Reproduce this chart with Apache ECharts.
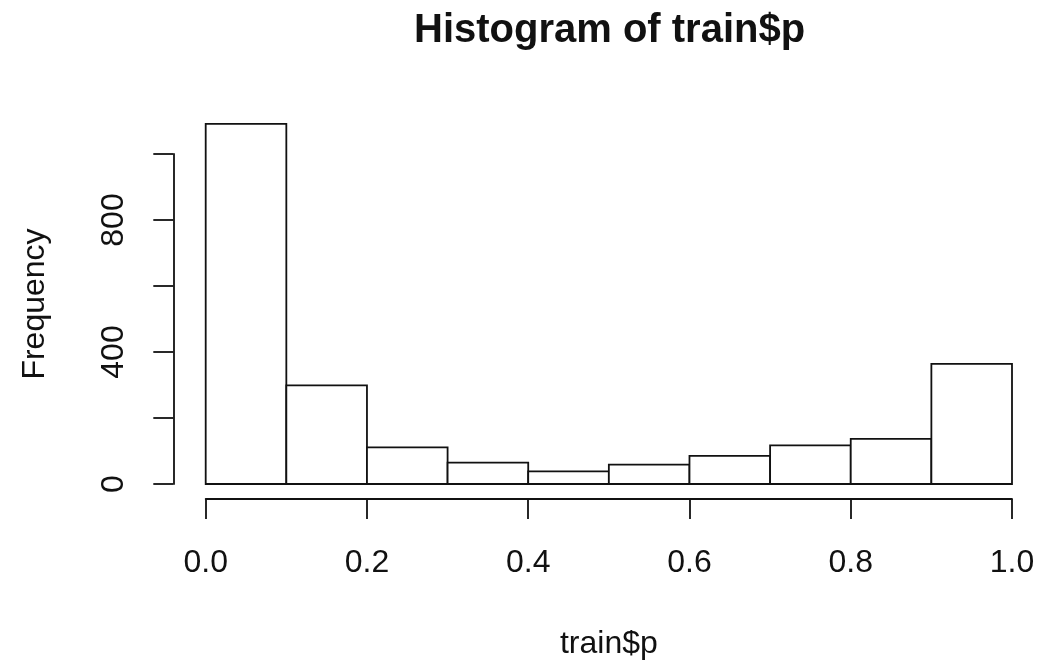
<!DOCTYPE html>
<html>
<head>
<meta charset="utf-8">
<script src="https://cdn.jsdelivr.net/npm/echarts@6/dist/echarts.min.js"></script>
<style>
html,body{margin:0;padding:0;background:#fff;}
#chart{width:1042px;height:661px;}
</style>
</head>
<body>
<div id="chart"></div>
<script>
// Data
var binStarts = [0.0, 0.1, 0.2, 0.3, 0.4, 0.5, 0.6, 0.7, 0.8, 0.9];
var binEnds   = [0.1, 0.2, 0.3, 0.4, 0.5, 0.6, 0.7, 0.8, 0.9, 1.0];
var counts    = [1091, 299, 111, 65, 38, 59, 85, 117, 137, 364];
var xTickLabels = ['0.0', '0.2', '0.4', '0.6', '0.8', '1.0'];
var yLabelValues = [0, 400, 800];

var FONT = 'Liberation Sans, Arial, sans-serif';
var INK = '#111';

var chart = echarts.init(document.getElementById('chart'), null, {renderer: 'canvas'});

var data = counts.map(function (c, i) { return [binStarts[i], binEnds[i], c]; });

chart.setOption({
  backgroundColor: '#fff',
  animation: false,
  title: {
    text: 'Histogram of train$p',
    left: 409,
    top: 6,
    textStyle: {fontFamily: FONT, fontWeight: 'bold', fontSize: 40, color: INK}
  },
  grid: {left: 205.7, width: 806.3, top: 154, height: 330, containLabel: false},
  xAxis: {
    type: 'value',
    min: 0, max: 1, interval: 0.2,
    offset: 15,
    name: 'train$p',
    nameLocation: 'middle',
    nameGap: 129,
    nameTextStyle: {fontFamily: FONT, fontSize: 32, color: INK},
    axisLine: {show: true, onZero: false, lineStyle: {color: INK, width: 1.8}},
    axisTick: {show: true, length: 20, lineStyle: {color: INK, width: 1.8}},
    axisLabel: {
      fontFamily: FONT, fontSize: 32, color: INK, margin: 48,
      formatter: function (v) { var i = Math.round(v / 0.2); return xTickLabels[i] || ''; }
    },
    splitLine: {show: false}
  },
  yAxis: {
    type: 'value',
    min: 0, max: 1000, interval: 200,
    offset: 32.4,
    name: 'Frequency',
    nameLocation: 'middle',
    nameGap: 122,
    nameRotate: 90,
    nameTextStyle: {fontFamily: FONT, fontSize: 32, color: INK, padding: [0, 0, 0, 30]},
    axisLine: {show: true, onZero: false, lineStyle: {color: INK, width: 1.8}},
    axisTick: {show: true, length: 20, lineStyle: {color: INK, width: 1.8}},
    axisLabel: {
      fontFamily: FONT, fontSize: 32, color: INK, margin: 43, rotate: 90,
      formatter: function (v) { return yLabelValues.indexOf(v) >= 0 ? String(v) : ''; }
    },
    splitLine: {show: false}
  },
  series: [{
    type: 'custom',
    clip: false,
    data: data,
    renderItem: function (params, api) {
      var p0 = api.coord([api.value(0), 0]);
      var p1 = api.coord([api.value(1), api.value(2)]);
      return {
        type: 'rect',
        shape: {x: p0[0], y: p1[1], width: p1[0] - p0[0], height: p0[1] - p1[1]},
        style: {fill: '#fff', stroke: INK, lineWidth: 1.8}
      };
    }
  }]
});
</script>
</body>
</html>
